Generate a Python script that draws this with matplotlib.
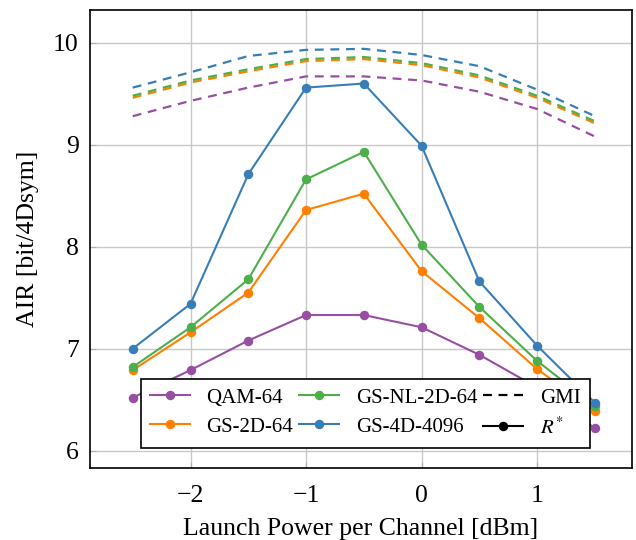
import matplotlib
matplotlib.use('Agg')
import matplotlib.pyplot as plt
from matplotlib.lines import Line2D

plt.rcParams['font.family'] = ['Liberation Serif', 'DejaVu Serif']
plt.rcParams['mathtext.fontset'] = 'stix'

# launch power per channel [dBm]
power = [-2.5, -2.0, -1.5, -1.0, -0.5, 0.0, 0.5, 1.0, 1.5]

# R* (solid with markers)
r_qam64 = [6.52, 6.79, 7.08, 7.33, 7.33, 7.21, 6.94, 6.62, 6.22]
r_gs2d64 = [6.79, 7.16, 7.55, 8.36, 8.52, 7.76, 7.30, 6.80, 6.39]
r_gsnl2d64 = [6.82, 7.21, 7.68, 8.66, 8.93, 8.02, 7.41, 6.88, 6.44]
r_gs4d4096 = [7.00, 7.44, 8.71, 9.56, 9.60, 8.99, 7.66, 7.03, 6.47]

# GMI (dashed)
g_qam64 = [9.28, 9.43, 9.56, 9.67, 9.67, 9.63, 9.52, 9.35, 9.08]
g_gs2d64 = [9.46, 9.61, 9.72, 9.82, 9.84, 9.78, 9.66, 9.46, 9.21]
g_gsnl2d64 = [9.48, 9.63, 9.74, 9.84, 9.86, 9.80, 9.68, 9.48, 9.23]
g_gs4d4096 = [9.56, 9.71, 9.87, 9.93, 9.94, 9.88, 9.77, 9.54, 9.28]

names = ['QAM-64', 'GS-2D-64', 'GS-NL-2D-64', 'GS-4D-4096']
colors = ['#984ea3', '#ff7f00', '#4daf4a', '#377eb8']
r_all = [r_qam64, r_gs2d64, r_gsnl2d64, r_gs4d4096]
g_all = [g_qam64, g_gs2d64, g_gsnl2d64, g_gs4d4096]

fig = plt.figure(figsize=(6.36, 5.4), dpi=100)
ax = fig.add_axes([0.1415, 0.1333, 0.852, 0.848])

for g, c in zip(g_all, colors):
    ax.plot(power, g, linestyle=(0, (4, 3)), color=c, linewidth=1.6)

handles = []
for r, c, n in zip(r_all, colors, names):
    h, = ax.plot(power, r, marker='o', markersize=5.8, color=c, linewidth=1.5, label=n)
    handles.append(h)

handles.append(Line2D([], [], color='black', linestyle=(0, (4, 3)), linewidth=1.6, label='GMI'))
handles.append(Line2D([], [], color='black', marker='o', markersize=5.8, linewidth=1.5, label='$R^{*}$'))

ax.set_xlim(-2.87, 1.82)
ax.set_ylim(5.83, 10.32)
ax.set_xticks([-2, -1, 0, 1])
ax.set_xticklabels(['\u22122', '\u22121', '0', '1'])
ax.set_yticks([6, 7, 8, 9, 10])
ax.grid(color='#c8c8c8', linewidth=1.0)
ax.set_axisbelow(True)
ax.tick_params(direction='in', length=4, color='#b0b0b0', labelsize=18.5)
ax.tick_params(axis='x', pad=12)
ax.tick_params(axis='y', pad=8)
for s in ax.spines.values():
    s.set_linewidth(1.2)

ax.set_xlabel('Launch Power per Channel [dBm]', fontsize=18.5, labelpad=8)
ax.set_ylabel('AIR [bit/4Dsym]', fontsize=18.5, labelpad=10)

leg = ax.legend(handles=handles, ncol=3, loc='lower center', bbox_to_anchor=(0.508, 0.044),
                fontsize=15, fancybox=False, framealpha=1, edgecolor='black',
                handlelength=1.9, columnspacing=0.3, handletextpad=0.8,
                borderpad=0.45, labelspacing=0.45, borderaxespad=0)
leg.get_frame().set_linewidth(1.2)

fig.savefig('out.png', dpi=100)
